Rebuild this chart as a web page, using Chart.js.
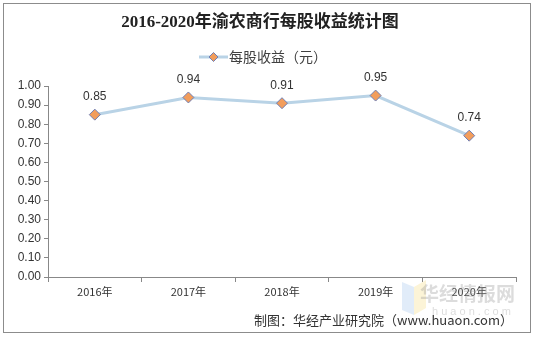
<!DOCTYPE html>
<html>
<head>
<meta charset="utf-8">
<script src="https://cdn.jsdelivr.net/npm/chart.js@4.4.0/dist/chart.umd.min.js"></script>
<style>
  html, body { margin: 0; padding: 0; background: #fff; }
  #wrap { width: 536px; height: 337px; position: relative; }
</style>
</head>
<body>
<div id="wrap"><canvas id="eps"></canvas></div>
<script>
const years = ['2016年', '2017年', '2018年', '2019年', '2020年'];
const eps = [0.85, 0.94, 0.91, 0.95, 0.74];
const yTicks = [0, 0.1, 0.2, 0.3, 0.4, 0.5, 0.6, 0.7, 0.8, 0.9, 1.0];

const seriesName = '每股收益（元）';
const titleText = '2016-2020年渝农商行每股收益统计图';
const sourceText = '制图：华经产业研究院（www.huaon.com）';

const lineColor = '#b9d3e6';
const markerFill = '#f29d5c';
const markerEdge = '#6f7fb5';

const diamond = (c, x, y, r) => {
    c.beginPath();
    c.moveTo(x, y - r); c.lineTo(x + r, y); c.lineTo(x, y + r); c.lineTo(x - r, y);
    c.closePath();
    c.fillStyle = markerFill; c.strokeStyle = markerEdge; c.lineWidth = 1;
    c.fill(); c.stroke();
};

const decor = {
    id: 'decor',
    afterDraw(chart) {
        const ctx = chart.ctx;
        ctx.save();
        // title
        ctx.fillStyle = '#222';
        ctx.textAlign = 'center';
        ctx.textBaseline = 'middle';
        ctx.font = 'bold 17px "Liberation Serif", "Noto Sans CJK SC", serif';
        ctx.fillText(titleText, 260, 23);
        // legend
        ctx.strokeStyle = lineColor; ctx.lineWidth = 3;
        ctx.beginPath(); ctx.moveTo(199, 57); ctx.lineTo(228, 57); ctx.stroke();
        diamond(ctx, 213.5, 57, 4.5);
        ctx.fillStyle = '#404040';
        ctx.textAlign = 'left';
        ctx.font = '14px "Noto Sans CJK SC", sans-serif';
        ctx.fillText(seriesName, 229, 57);
        // data labels
        const meta = chart.getDatasetMeta(0);
        ctx.fillStyle = '#333';
        ctx.font = '12px "Liberation Sans", Arial, sans-serif';
        ctx.textAlign = 'center';
        meta.data.forEach((pt, i) => {
            ctx.fillText(eps[i].toFixed(2), pt.x, pt.y - 18);
        });
        // watermark
        ctx.globalAlpha = 0.35;
        ctx.fillStyle = '#a9c8ee';
        ctx.beginPath(); ctx.moveTo(402, 282); ctx.lineTo(414, 287); ctx.lineTo(414, 315); ctx.lineTo(402, 310); ctx.closePath(); ctx.fill();
        ctx.fillStyle = '#f6df8c';
        ctx.beginPath(); ctx.moveTo(414, 287); ctx.lineTo(426, 280); ctx.lineTo(426, 308); ctx.lineTo(414, 315); ctx.closePath(); ctx.fill();
        ctx.fillStyle = '#9a9a9a';
        ctx.textAlign = 'left';
        ctx.font = 'bold 19px "Noto Sans CJK SC", sans-serif';
        ctx.fillText('华经情报网', 420, 294);
        ctx.font = '11px "Liberation Sans", sans-serif';
        ctx.fillText('h u a o n . c o m', 432, 312);
        ctx.globalAlpha = 1;
        // source
        ctx.fillStyle = '#333';
        ctx.font = '13px "Noto Sans CJK SC", "Liberation Sans", sans-serif';
        ctx.textAlign = 'right';
        ctx.fillText(sourceText, 513, 320);
        // frame
        ctx.strokeStyle = '#8c8c8c';
        ctx.lineWidth = 1;
        ctx.strokeRect(3.5, 3.5, 527, 329);
        ctx.restore();
    }
};

new Chart(document.getElementById('eps').getContext('2d'), {
    type: 'line',
    data: {
        labels: years,
        datasets: [{
            label: seriesName,
            data: eps,
            borderColor: lineColor,
            borderWidth: 3,
            tension: 0,
            pointStyle: 'rectRot',
            pointRadius: 5.5,
            pointBackgroundColor: markerFill,
            pointBorderColor: markerEdge,
            pointBorderWidth: 1
        }]
    },
    options: {
        responsive: true,
        maintainAspectRatio: false,
        animation: false,
        layout: { padding: { left: 0, right: 20, top: 86, bottom: 0 } },
        plugins: {
            title: { display: false },
            legend: { display: false },
            tooltip: { enabled: false }
        },
        scales: {
            x: {
                offset: true,
                grid: { display: true, offset: true, drawOnChartArea: false, tickLength: 5, color: '#888' },
                border: { color: '#888' },
                ticks: { color: '#333', font: { family: '"Noto Sans CJK SC", "Liberation Sans", sans-serif', size: 11 }, padding: 3 },
                afterFit: s => { s.height = 60; }
            },
            y: {
                min: 0,
                max: 1,
                afterBuildTicks: s => { s.ticks = yTicks.map(v => ({ value: v })); },
                grid: { display: true, drawOnChartArea: false, tickLength: 4, color: '#888' },
                border: { color: '#888' },
                ticks: {
                    color: '#333',
                    font: { family: '"Liberation Sans", Arial, sans-serif', size: 12 },
                    padding: 3,
                    callback: v => v.toFixed(2)
                },
                afterFit: s => { s.width = 48; }
            }
        }
    },
    plugins: [decor]
});
</script>
</body>
</html>
